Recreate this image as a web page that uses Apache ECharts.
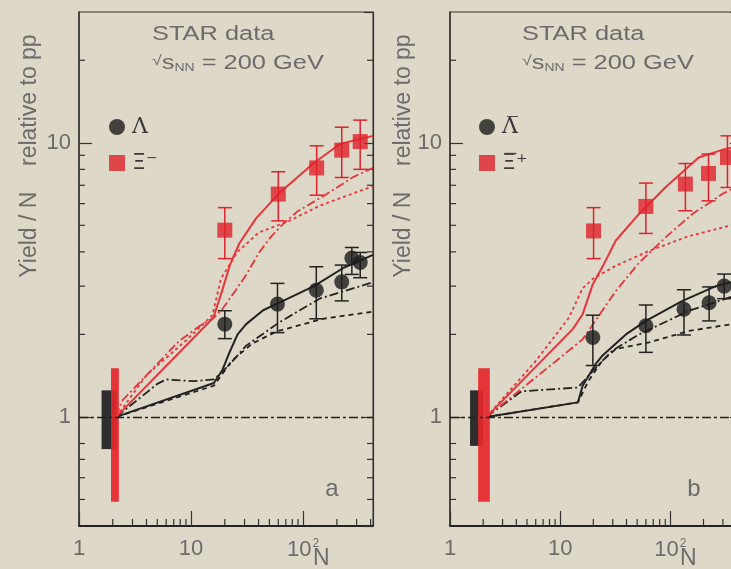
<!DOCTYPE html>
<html>
<head>
<meta charset="utf-8">
<script src="https://cdn.jsdelivr.net/npm/echarts@6/dist/echarts.min.js"></script>
<style>
html,body{margin:0;padding:0;background:#ddd8c8;}
#chart{width:731px;height:569px;}
</style>
</head>
<body>
<div id="chart"></div>
<script>
// ---------- data (N = participants, yield/N relative to pp) ----------
// Panel a
const lamN_a  = [20, 59, 131, 221, 272, 323];
const lamY_a  = [2.18, 2.58, 2.90, 3.11, 3.80, 3.66];
const lamLo_a = [1.93, 2.03, 2.28, 2.65, 3.31, 3.22];
const lamHi_a = [2.44, 3.07, 3.53, 3.58, 4.15, 3.98];

const xiN_a  = [20, 60, 132, 221, 323];
const xiY_a  = [4.8, 6.5, 8.1, 9.4, 10.1];
const xiLo_a = [3.78, 5.19, 6.44, 7.47, 8.0];
const xiHi_a = [5.8, 7.84, 9.75, 11.4, 12.1];

// Panel b
const lamN_b  = [19.8, 60, 133, 225, 308];
const lamY_b  = [1.95, 2.15, 2.47, 2.61, 3.0];
const lamLo_b = [1.54, 1.72, 1.99, 2.24, 2.7];
const lamHi_b = [2.35, 2.56, 2.91, 2.98, 3.32];

const xiN_b  = [20.1, 60, 137, 222, 330];
const xiY_b  = [4.77, 5.86, 7.07, 7.73, 8.84];
const xiLo_b = [3.78, 4.67, 5.65, 6.14, 6.87];
const xiHi_b = [5.8, 7.13, 8.4, 9.1, 10.6];

// model curves [N, value]
const solidBlackA   = [[2.15,1],[16,1.33],[19,1.48],[22.3,1.74],[26,2.0],[31,2.18],[44,2.45],[60,2.6],[125,3.0],[230,3.5],[420,3.9]];
const dashdotBlackA = [[2.15,1],[5,1.32],[6,1.37],[10.5,1.35],[16,1.37],[22,1.55],[31,1.82],[62,2.22],[140,2.7],[420,3.1]];
const dashedBlackA  = [[2.15,1],[16,1.3],[23,1.6],[35,1.85],[58,2.05],[150,2.28],[420,2.42]];
const solidRedA     = [[2.15,1],[15.8,2.3],[19,2.9],[22.3,3.6],[27,4.3],[38,5.3],[60,6.5],[123,8.4],[213,9.9],[420,10.6]];
const dashdotRedA   = [[2.15,1],[2.4,1.14],[7.8,1.89],[12,2.15],[16,2.3],[19.4,2.5],[25,2.9],[31.4,3.32],[40,3.95],[50.6,4.5],[66,5.05],[88,5.6],[162,6.5],[280,7.5],[420,8.1]];
const dottedRedA    = [[2.15,1],[4,1.42],[9,1.9],[15.5,2.35],[18.5,3.2],[26,4.0],[40,4.7],[76,5.2],[141,5.9],[420,6.95]];

const solidBlackB   = [[2.15,1],[14.5,1.13],[16,1.3],[21,1.56],[24.4,1.68],[39.5,2.0],[60,2.24],[129,2.65],[259,3.0],[420,3.15]];
const dashdotBlackB = [[2.15,1],[4.45,1.24],[14.5,1.28],[21,1.51],[30,1.75],[52,2.0],[148,2.44],[420,2.8]];
const dashedBlackB  = [[2.15,1],[14.5,1.13],[18,1.35],[24,1.6],[32,1.77],[64,1.87],[148,2.06],[420,2.2]];
const solidRedB     = [[2.15,1],[13,2.09],[16,2.37],[19.8,3.05],[24.4,3.55],[32,4.4],[52,5.5],[90,6.87],[181,8.84],[316,9.5],[420,9.7]];
const dashdotRedB   = [[2.15,1],[9.2,1.6],[16,1.92],[32,2.88],[52,3.65],[90,4.51],[159,5.5],[296,6.5],[420,7.0]];
const dottedRedB    = [[2.15,1],[6,1.6],[12,2.3],[16,2.95],[20,3.2],[32,3.56],[64,4.03],[148,4.57],[340,4.98],[420,5.05]];

// normalisation uncertainty bands [N0, N1, lo, hi]
const normBlackA = [[1.59, 2.17, 0.763, 1.25]];
const normRedA   = [[1.93, 2.27, 0.49, 1.505]];
const normBlackB = [[1.52, 2.0, 0.784, 1.25]];
const normRedB   = [[1.80, 2.30, 0.49, 1.505]];

// axis settings
const xMin = 1, xMax = 420, yMin = 0.4, yMax = 30;
const minorX = [2,3,4,5,6,7,8,9,20,30,40,50,60,70,80,90,200,300,400];
const minorY = [0.5,0.6,0.7,0.8,2,3,4,5,6,7,8,9,20];
const panelNames = [['Λ','Ξ⁻'], ['Λ̅','Ξ̅⁺']];

// ---------- chart ----------
const BLACK = '#222222', RED = '#e8343a', REDM = '#e0222b', GREY = '#6c6c6c';
const chart = echarts.init(document.getElementById('chart'), null, {renderer:'canvas'});

const grids = [
  {left:79, top:12, width:294, height:514, show:true, borderColor:'#333', borderWidth:1, backgroundColor:'transparent', outerBoundsMode:'none', containLabel:false},
  {left:450, top:12, width:289, height:514, show:true, borderColor:'#333', borderWidth:1, backgroundColor:'transparent', outerBoundsMode:'none', containLabel:false}
];

function xFmt(v){
  const r = Math.round(v*1000)/1000;
  if (r === 1) return '1';
  if (r === 10) return '10';
  if (r === 100) return '{m|10}{s|2}';
  return '';
}
function yFmt(v){
  const r = Math.round(v*1000)/1000;
  if (r === 1) return '1';
  if (r === 10) return '10';
  return '';
}
const xAxes = [0,1].map(i => ({
  type:'log', logBase:10, gridIndex:i, min:xMin, max:xMax,
  axisLine:{show:true, onZero:false, lineStyle:{color:'#222', width:2}},
  axisTick:{show:true, inside:true, length:15, lineStyle:{color:'#333', width:1.2}},
  splitLine:{show:false},
  axisLabel:{show:true, formatter:xFmt, margin:12, showMinLabel:true, showMaxLabel:false, color:GREY,
    fontFamily:'Liberation Sans', fontSize:22,
    rich:{m:{fontSize:22, fontFamily:'Liberation Sans', color:GREY},
          s:{fontSize:12, fontFamily:'Liberation Sans', color:GREY, padding:[0,0,12,1]}}}
}));
const yAxes = [];
[0,1].forEach(i => {
  yAxes.push({
    type:'log', logBase:10, gridIndex:i, min:yMin, max:yMax, position:'left',
    axisLine:{show:true, onZero:false, lineStyle:{color:'#333', width:1.5}},
    axisTick:{show:true, inside:true, length:13, lineStyle:{color:'#333', width:1.2}},
    splitLine:{show:false},
    axisLabel:{show:true, formatter:yFmt, margin:8, showMinLabel:false, showMaxLabel:false, color:GREY, fontFamily:'Liberation Sans', fontSize:22}
  });
  yAxes.push({
    type:'log', logBase:10, gridIndex:i, min:yMin, max:yMax, position:'right',
    axisLine:{show:true, onZero:false, lineStyle:{color:'#333', width:1.2}},
    axisTick:{show:true, inside:true, length:9, lineStyle:{color:'#333', width:1.2}},
    splitLine:{show:false}, axisLabel:{show:false}
  });
});

function zip3(n, lo, hi){ return n.map((v,k)=>[v, lo[k], hi[k]]); }
function zip2(n, y){ return n.map((v,k)=>[v, y[k]]); }

function errRender(color){
  return function(params, api){
    const x = api.value(0), lo = api.value(1), hi = api.value(2);
    const pl = api.coord([x, lo]), ph = api.coord([x, hi]);
    const w = 7;
    const st = {stroke:color, lineWidth:1.5};
    return {type:'group', children:[
      {type:'line', shape:{x1:pl[0], y1:pl[1], x2:ph[0], y2:ph[1]}, style:st},
      {type:'line', shape:{x1:pl[0]-w, y1:pl[1], x2:pl[0]+w, y2:pl[1]}, style:st},
      {type:'line', shape:{x1:ph[0]-w, y1:ph[1], x2:ph[0]+w, y2:ph[1]}, style:st}
    ]};
  };
}
function boxRender(color){
  return function(params, api){
    const a = api.coord([api.value(0), api.value(3)]);
    const b = api.coord([api.value(1), api.value(2)]);
    return {type:'rect', shape:{x:a[0], y:a[1], width:b[0]-a[0], height:b[1]-a[1]}, style:{fill:color}};
  };
}
function minorXRender(params, api){
  const cs = params.coordSys;
  const x = api.coord([api.value(0), 1])[0];
  const yb = cs.y + cs.height;
  return {type:'line', shape:{x1:x, y1:yb, x2:x, y2:yb-7}, style:{stroke:'#333', lineWidth:1.2}};
}
function minorYRender(params, api){
  const cs = params.coordSys;
  const y = api.coord([1, api.value(1)])[1];
  return {type:'group', children:[
    {type:'line', shape:{x1:cs.x, y1:y, x2:cs.x+6, y2:y}, style:{stroke:'#333', lineWidth:1.2}},
    {type:'line', shape:{x1:cs.x+cs.width-6, y1:y, x2:cs.x+cs.width, y2:y}, style:{stroke:'#333', lineWidth:1.2}}
  ]};
}
function curve(data, i, color, type, width){
  return {type:'line', xAxisIndex:i, yAxisIndex:i*2, data:data, showSymbol:false, symbol:'none', smooth:false,
    silent:true, z:3, lineStyle:{color:color, width:width||1.8, type:type}, clip:true};
}

const series = [];
const panels = [
  {lamN:lamN_a, lamY:lamY_a, lamLo:lamLo_a, lamHi:lamHi_a, xiN:xiN_a, xiY:xiY_a, xiLo:xiLo_a, xiHi:xiHi_a,
   sb:solidBlackA, db:dashdotBlackA, kb:dashedBlackA, sr:solidRedA, dr:dashdotRedA, kr:dottedRedA, nb:normBlackA, nr:normRedA},
  {lamN:lamN_b, lamY:lamY_b, lamLo:lamLo_b, lamHi:lamHi_b, xiN:xiN_b, xiY:xiY_b, xiLo:xiLo_b, xiHi:xiHi_b,
   sb:solidBlackB, db:dashdotBlackB, kb:dashedBlackB, sr:solidRedB, dr:dashdotRedB, kr:dottedRedB, nb:normBlackB, nr:normRedB}
];
panels.forEach((p, i) => {
  const yi = i*2;
  series.push({type:'custom', xAxisIndex:i, yAxisIndex:yi, renderItem:minorXRender, data:minorX.map(v=>[v,1]), silent:true, z:1, clip:false});
  series.push({type:'custom', xAxisIndex:i, yAxisIndex:yi, renderItem:minorYRender, data:minorY.map(v=>[1,v]), silent:true, z:1, clip:false});
  series.push({type:'custom', xAxisIndex:i, yAxisIndex:yi, renderItem:boxRender('#2e2e2e'), data:p.nb, silent:true, z:2, encode:{x:[0,1], y:[2,3]}});
  series.push({type:'custom', xAxisIndex:i, yAxisIndex:yi, renderItem:boxRender('rgba(228,40,44,0.92)'), data:p.nr, silent:true, z:2, encode:{x:[0,1], y:[2,3]}});
  // reference line at 1
  series.push({type:'line', xAxisIndex:i, yAxisIndex:yi, data:[], silent:true, z:2,
    markLine:{silent:true, symbol:['none','none'], label:{show:false}, animation:false,
      lineStyle:{color:'#222', width:1.4, type:[9,3,3,3]}, data:[{yAxis:1}]}});
  series.push(curve(p.kb, i, BLACK, [5,4]));
  series.push(curve(p.db, i, BLACK, [9,3,2,3]));
  series.push(curve(p.sb, i, BLACK, 'solid', 2));
  series.push(curve(p.kr, i, RED, [3,3]));
  series.push(curve(p.dr, i, RED, [9,3,2,3]));
  series.push(curve(p.sr, i, RED, 'solid', 2));
  series.push({type:'custom', xAxisIndex:i, yAxisIndex:yi, renderItem:errRender('#222'), data:zip3(p.lamN,p.lamLo,p.lamHi), silent:true, z:4, encode:{x:0, y:[1,2]}});
  series.push({type:'custom', xAxisIndex:i, yAxisIndex:yi, renderItem:errRender('#e0222b'), data:zip3(p.xiN,p.xiLo,p.xiHi), silent:true, z:4, encode:{x:0, y:[1,2]}});
  series.push({type:'scatter', name:panelNames[i][0], xAxisIndex:i, yAxisIndex:yi, data:zip2(p.lamN,p.lamY), symbol:'circle', symbolSize:15, itemStyle:{color:'#1c1c1c'}, z:5});
  series.push({type:'scatter', name:panelNames[i][1], xAxisIndex:i, yAxisIndex:yi, data:zip2(p.xiN,p.xiY), symbol:'rect', symbolSize:15, itemStyle:{color:REDM}, z:5});
});

const legends = [104, 474].map((l, i) => ({
  data:[{name:panelNames[i][0], icon:'circle'}, {name:panelNames[i][1], icon:'rect'}],
  orient:'vertical', left:l, top:111, itemWidth:16, itemHeight:16, itemGap:14, selectedMode:false,
  formatter: function(name){ return name.charAt(0) === 'Ξ' ? '{s|' + name + '}' : '{t|' + name + '}'; },
  textStyle:{fontFamily:'DejaVu Serif', fontSize:22, color:'#3a3a3a', padding:[0,0,0,2],
    rich:{t:{fontFamily:'DejaVu Serif', fontSize:22, color:'#3a3a3a'},
          s:{fontFamily:'DejaVu Sans', fontSize:22, color:'#3a3a3a'}}}
}));

function txt(x, y, text, size, extra){
  return Object.assign({type:'text', x:x, y:y, silent:true, z:10,
    style:{text:text, fontFamily:'Liberation Sans', fontSize:size, fill:GREY, align:'left', verticalAlign:'middle'}}, extra||{});
}
const graphics = [];
[[152, 0], [522, 1]].forEach(([x0]) => {
  graphics.push(txt(x0, 34, 'STAR data', 20, {scaleX:1.27}));
  graphics.push({type:'text', x:x0, y:63, silent:true, z:10, scaleX:1.27,
    style:{text:'{r|√}{a|s}{b|NN}{a| = 200 GeV}', align:'left', verticalAlign:'middle', fill:GREY,
      rich:{r:{fontSize:14, fontFamily:'Liberation Sans', fill:GREY, color:GREY, padding:[0,0,4,0]},
            a:{fontSize:20, fontFamily:'Liberation Sans', fill:GREY, color:GREY},
            b:{fontSize:11, fontFamily:'Liberation Sans', fill:GREY, color:GREY, padding:[9,0,0,0]}}}});
});
graphics.push(txt(30, 156, 'Yield / N    relative to pp', 23, {rotation:Math.PI/2, style:{text:'Yield / N    relative to pp', fontFamily:'Liberation Sans', fontSize:23, fill:GREY, align:'center', verticalAlign:'middle'}}));
graphics.push(txt(404, 156, 'Yield / N    relative to pp', 23, {rotation:Math.PI/2, style:{text:'Yield / N    relative to pp', fontFamily:'Liberation Sans', fontSize:23, fill:GREY, align:'center', verticalAlign:'middle'}}));
graphics.push(txt(313, 559, 'N', 23));
graphics.push(txt(680, 559, 'N', 23));
graphics.push(txt(332, 489, 'a', 24, {style:{text:'a', fontFamily:'Liberation Sans', fontSize:24, fill:GREY, align:'center', verticalAlign:'middle'}}));
graphics.push(txt(694, 489, 'b', 24, {style:{text:'b', fontFamily:'Liberation Sans', fontSize:24, fill:GREY, align:'center', verticalAlign:'middle'}}));

chart.setOption({
  backgroundColor:'#ddd8c8',
  animation:false,
  grid:grids,
  xAxis:xAxes,
  yAxis:yAxes,
  legend:legends,
  graphic:graphics,
  series:series
});
</script>
</body>
</html>
